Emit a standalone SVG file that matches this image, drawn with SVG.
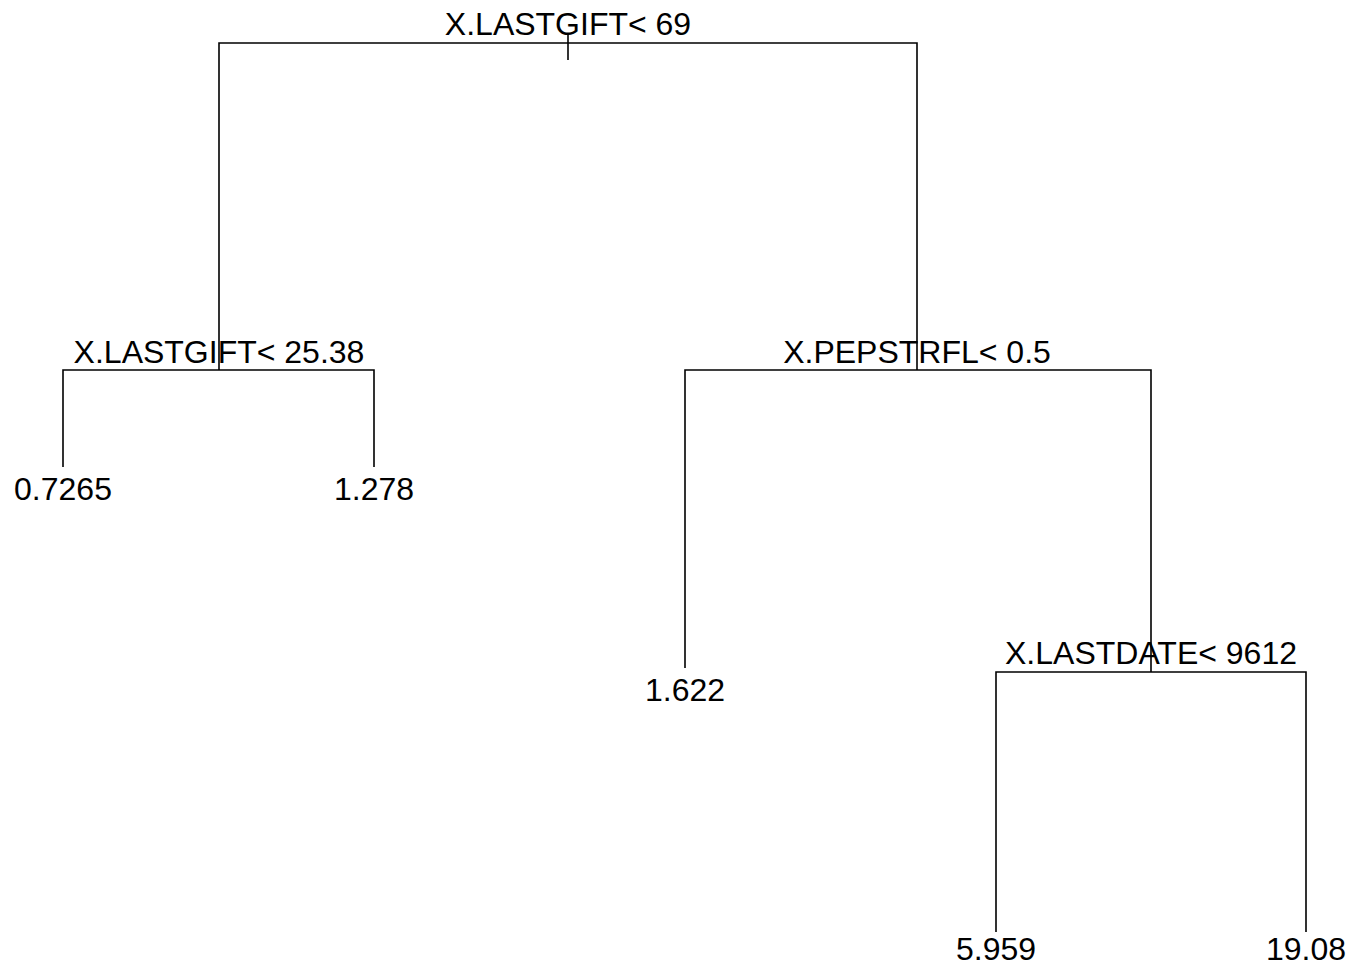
<svg xmlns="http://www.w3.org/2000/svg" width="1353" height="968" viewBox="0 0 1353 968">
<style>
.e{stroke:#000;stroke-width:1.6;fill:none;stroke-linecap:butt}
text{font-family:"Liberation Sans",Arial,sans-serif;font-size:32px;fill:#000;text-anchor:middle}
</style>
<rect width="1353" height="968" fill="#fff"/>
<g id="connectors">
<path class="e" d="M568,33V60"/>
<path class="e" d="M219,370V43H917V370"/>
<path class="e" d="M63,467V370H374V467"/>
<path class="e" d="M685,668V370H1151V672"/>
<path class="e" d="M996,932V672H1306V932"/>
</g>
<g id="n1"><text x="568" y="35">X.LASTGIFT&lt; 69</text></g>
<g id="n2"><text x="219" y="363">X.LASTGIFT&lt; 25.38</text></g>
<g id="n3"><text x="917" y="363">X.PEPSTRFL&lt; 0.5</text></g>
<g id="n4"><text x="63" y="500">0.7265</text></g>
<g id="n5"><text x="374" y="500">1.278</text></g>
<g id="n6"><text x="685" y="701">1.622</text></g>
<g id="n7"><text x="1151" y="664">X.LASTDATE&lt; 9612</text></g>
<g id="n8"><text x="996" y="960">5.959</text></g>
<g id="n9"><text x="1306" y="960">19.08</text></g>
</svg>
